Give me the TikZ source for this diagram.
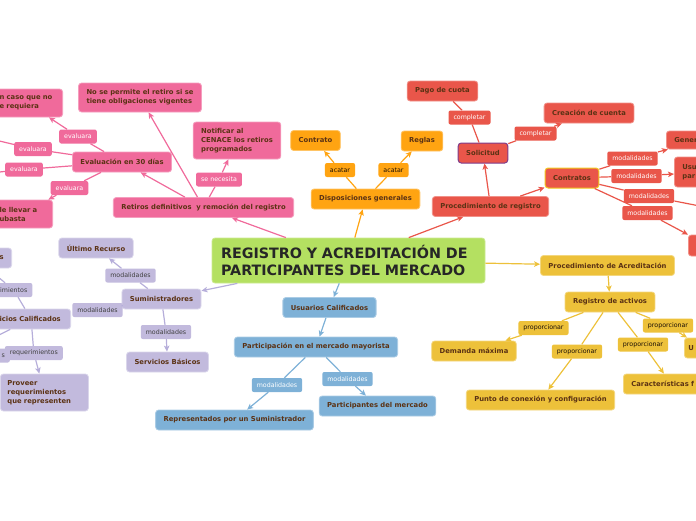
\documentclass[tikz,border=0pt]{standalone}
\usepackage{fontspec}
\setsansfont{DejaVu Sans}
\usetikzlibrary{positioning,arrows.meta}

\definecolor{mmgreen}{HTML}{B4E061}
\definecolor{mmpink}{HTML}{F06A9B}
\definecolor{mmorange}{HTML}{FFA412}
\definecolor{mmred}{HTML}{E9564A}
\definecolor{mmlav}{HTML}{C2BADD}
\definecolor{mmlavline}{HTML}{B6AEDA}
\definecolor{mmblue}{HTML}{7EB1D7}
\definecolor{mmyellow}{HTML}{EDC13A}
\definecolor{mmtext}{HTML}{5B3214}
\definecolor{mmpurple}{HTML}{7D3C8C}
\definecolor{mmgold}{HTML}{F2C81E}

\begin{document}
\begin{tikzpicture}[
  x=1pt, y=-1pt,
  font=\sffamily,
  >={Stealth[length=6pt,width=5.5pt,inset=1.5pt]},
  box/.style={rounded corners=3pt, align=center, line width=0.8pt,
              inner xsep=8pt, inner ysep=4pt, minimum height=20pt,
              text=mmtext, font=\sffamily\bfseries\fontsize{6.8}{9}\selectfont},
  title/.style ={box, fill=mmgreen, draw=mmgreen!70!white, align=left,
                 text width=255pt, inner xsep=9pt, minimum height=45pt,
                 text=black!85, font=\sffamily\bfseries\fontsize{14.3}{17}\selectfont},
  pinkbox/.style={box, fill=mmpink,   draw=mmpink!65!white},
  orgbox/.style ={box, fill=mmorange, draw=mmorange!65!white},
  redbox/.style ={box, fill=mmred,    draw=mmred!65!white},
  lavbox/.style ={box, fill=mmlav,    draw=mmlav!60!white},
  bluebox/.style={box, fill=mmblue,   draw=mmblue!65!white},
  yelbox/.style ={box, fill=mmyellow, draw=mmyellow!65!white},
  lbl/.style={rounded corners=2pt, inner xsep=5pt, inner ysep=2pt,
              minimum height=14pt, font=\sffamily\fontsize{6.3}{8}\selectfont},
  pinklbl/.style={lbl, fill=mmpink,   text=white},
  orglbl/.style ={lbl, fill=mmorange, text=black!70!mmtext},
  redlbl/.style ={lbl, fill=mmred,    text=white},
  lavlbl/.style ={lbl, fill=mmlav,    text=black!75},
  bluelbl/.style={lbl, fill=mmblue,   text=white},
  yellbl/.style ={lbl, fill=mmyellow, text=black!70!mmtext},
  flow/.style={->, line width=1.2pt},
  pinkflow/.style={flow, draw=mmpink},
  orgflow/.style ={flow, draw=mmorange},
  redflow/.style ={flow, draw=mmred},
  lavflow/.style ={flow, draw=mmlavline},
  blueflow/.style={flow, draw=mmblue},
  yelflow/.style ={flow, draw=mmyellow},
]
\clip (0,0) rectangle (696,520);

% centre
\node[title] (root) at (348.5,260.5) {REGISTRO Y ACREDITACIÓN DE\\PARTICIPANTES DEL MERCADO};

% retiros
\node[pinkbox] (retiros) at (203.5,207.5) {Retiros definitivos \ y remoción del registro};
\node[pinkbox] (eval) at (122,162) {Evaluación en 30 días};
\node[pinkbox, align=left, minimum height=29pt] (nopermite) at (140,97.5)
  {No se permite el retiro si se\\tiene obligaciones vigentes};
\node[pinkbox, align=left, minimum height=37pt] (notificar) at (237,140.5)
  {Notificar al\\CENACE los retiros\\programados};
\node[pinkbox, anchor=east, align=left, text width=55pt, minimum height=28pt]
  (encaso) at (63,103) {n caso que no\\e requiera};
\node[pinkbox, anchor=east, align=left, text width=45pt, minimum height=28pt]
  (subasta) at (53,214) {le llevar a\\ubasta};
\node[pinklbl] (ev1) at (78,136.5) {evaluara};
\node[pinklbl] (ev2) at (33,149) {evaluara};
\node[pinklbl] (ev3) at (24,169.5) {evaluara};
\node[pinklbl] (ev4) at (69.5,188) {evaluara};
\node[pinklbl] (necesita) at (219,179.5) {se necesita};
\coordinate (offa) at (-30,134);
\coordinate (offb) at (-30,175);

% disposiciones
\node[orgbox] (dispo) at (365.5,199) {Disposiciones generales};
\node[orgbox] (contrato) at (315.5,140.5) {Contrato};
\node[orgbox] (reglas) at (422,141) {Reglas};
\node[orglbl] (acat1) at (340,170) {acatar};
\node[orglbl] (acat2) at (393.5,170) {acatar};

% procedimiento de registro
\node[redbox] (procreg) at (490.5,206.5) {Procedimiento de registro};
\node[redbox, draw=mmpurple, line width=1pt] (solicitud) at (483,153) {Solicitud};
\node[redbox] (pago) at (442.5,91) {Pago de cuota};
\node[redbox] (creacion) at (589,113) {Creación de cuenta};
\node[redbox, draw=mmgold, line width=1pt] (contratos) at (572,178) {Contratos};
\node[redbox, anchor=west, align=left, text width=60pt, minimum height=18pt]
  (gener) at (666,140) {Gener};
\node[redbox, anchor=west, align=left, text width=60pt, minimum height=30pt]
  (usupar) at (674,172) {Usu\\par};
\node[redbox, anchor=west, minimum width=40pt, minimum height=21pt]
  (redpart) at (688,245.5) {};
\node[redlbl] (compl1) at (469.5,117.5) {completar};
\node[redlbl] (compl2) at (535.5,133.5) {completar};
\node[redlbl] (modr1) at (632.5,158.5) {modalidades};
\node[redlbl] (modr2) at (636.5,176) {modalidades};
\node[redlbl] (modr3) at (649,196) {modalidades};
\node[redlbl] (modr4) at (647.5,213) {modalidades};
\coordinate (offc) at (720,210);

% suministradores
\node[lavbox] (sumi) at (161.5,299) {Suministradores};
\node[lavbox] (ultimo) at (96,248) {Último Recurso};
\node[lavbox] (basicos) at (167.5,362) {Servicios Básicos};
\node[lavbox, anchor=east, align=left, text width=63pt] (calif) at (71,319) {icios Calificados};
\node[lavbox, anchor=east, align=left, text width=4pt] (sbox) at (12,258) {s};
\node[lavbox, anchor=west, align=left, text width=74pt, inner xsep=7pt, minimum height=37pt]
  (proveer) at (0,392.5) {Proveer\\requerimientos\\que representen};
\node[lavlbl] (modsa) at (130.5,275.5) {modalidades};
\node[lavlbl] (modsb) at (97.5,310) {modalidades};
\node[lavlbl] (modsc) at (166,332) {modalidades};
\node[lavlbl, anchor=west] (imient) at (-5,290) {imientos};
\node[lavlbl, anchor=east] (req) at (63,353) {requerimientos};
\node[lavlbl, anchor=east] (slbl) at (10,355.5) {s};
\coordinate (offd) at (-20,262);
\coordinate (offe) at (-25,347);

% usuarios calificados
\node[bluebox] (usuarios) at (329.5,307.5) {Usuarios Calificados};
\node[bluebox] (particip) at (316,347) {Participación en el mercado mayorista};
\node[bluebox] (represent) at (234.5,420) {Representados por un Suministrador};
\node[bluebox] (partmerc) at (377.5,406) {Participantes del mercado};
\node[bluelbl] (modba) at (277,385) {modalidades};
\node[bluelbl] (modbb) at (347.5,379) {modalidades};

% acreditacion
\node[yelbox] (procacred) at (607.5,265.5) {Procedimiento de Acreditación};
\node[yelbox] (regact) at (610,302) {Registro de activos};
\node[yelbox] (demanda) at (474,351) {Demanda máxima};
\node[yelbox] (punto) at (540.5,400) {Punto de conexión y configuración};
\node[yelbox, anchor=west, align=left, text width=80pt] (caract) at (623,384) {Características f};
\node[yelbox, anchor=west, align=left, text width=30pt, inner xsep=4pt] (ubox) at (684,348) {U};
\node[yellbl] (prop1) at (543.5,328) {proporcionar};
\node[yellbl] (prop2) at (577,351.5) {proporcionar};
\node[yellbl] (prop3) at (643,344.5) {proporcionar};
\node[yellbl] (prop4) at (668,325.5) {proporcionar};

% arrows from the centre
\draw[pinkflow] (root) -- (retiros);
\draw[orgflow]  (root) -- (dispo);
\draw[redflow]  (root) -- (procreg);
\draw[yelflow]  (root) -- (procacred);
\draw[blueflow] (root) -- (usuarios);
\draw[lavflow]  (root) -- (sumi);

% retiros arrows
\draw[pinkflow] (retiros) -- (nopermite);
\draw[pinkflow] (retiros) -- (eval);
\draw[pinkflow] (retiros) -- (necesita) -- (notificar);
\draw[pinkflow] (eval) -- (ev1) -- (encaso);
\draw[pinkflow, -] (eval) -- (ev2) -- (offa);
\draw[pinkflow, -] (eval) -- (ev3) -- (offb);
\draw[pinkflow] (eval) -- (ev4) -- (subasta);

% disposiciones arrows
\draw[orgflow] (dispo) -- (acat1) -- (contrato);
\draw[orgflow] (dispo) -- (acat2) -- (reglas);

% registro arrows
\draw[redflow] (procreg) -- (solicitud);
\draw[redflow] (procreg) -- (contratos);
\draw[redflow, -] (solicitud) -- (compl1) -- (pago);
\draw[redflow] (solicitud) -- (compl2) -- (creacion);
\draw[redflow] (contratos) -- (modr1) -- (gener);
\draw[redflow] (contratos) -- (modr2) -- (usupar);
\draw[redflow] (contratos) -- (modr3) -- (offc);
\draw[redflow] (contratos) -- (modr4) -- (redpart);

% suministradores arrows
\draw[lavflow] (sumi) -- (modsa) -- (ultimo);
\draw[lavflow] (sumi) -- (modsc) -- (basicos);
\draw[lavflow, -] (sumi) -- (modsb);
\draw[lavflow, -] (calif) -- (imient) -- (offd);
\draw[lavflow, -] (calif) -- (offe);
\draw[lavflow] (calif) -- (req) -- (proveer);

% usuarios arrows
\draw[blueflow] (usuarios) -- (particip);
\draw[blueflow] (particip) -- (modba) -- (represent);
\draw[blueflow] (particip) -- (modbb) -- (partmerc);

% acreditacion arrows
\draw[yelflow] (procacred) -- (regact);
\draw[yelflow] (regact) -- (prop1) -- (demanda);
\draw[yelflow] (regact) -- (prop2) -- (punto);
\draw[yelflow] (regact) -- (prop3) -- (caract);
\draw[yelflow] (regact) -- (prop4) -- (ubox);

\end{tikzpicture}
\end{document}
